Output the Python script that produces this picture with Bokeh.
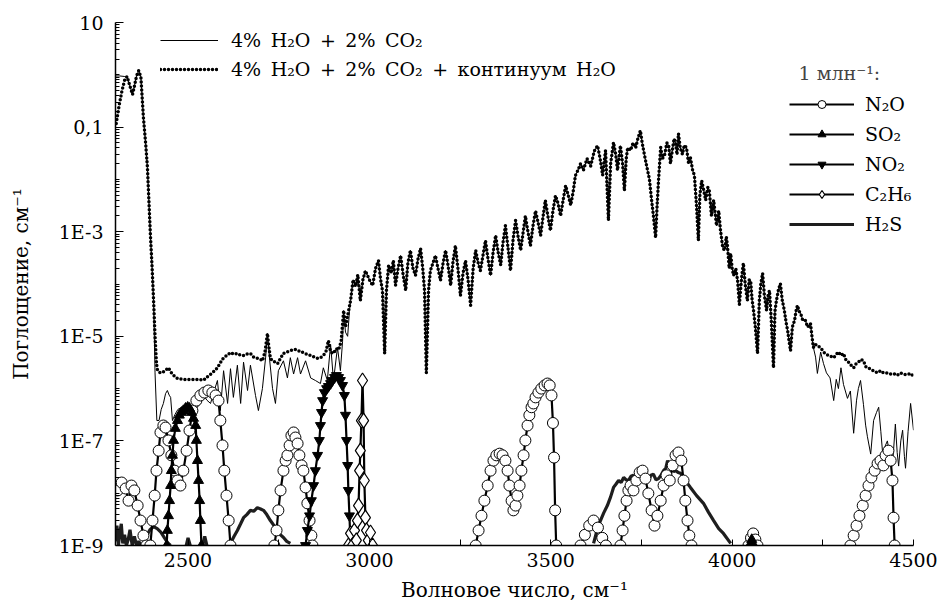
import math
from bokeh.plotting import figure
from bokeh.models import Range1d, FixedTicker, CustomJSTickFormatter, Legend, LegendItem
from bokeh.embed import file_html
from bokeh.resources import INLINE

# ---------------- data (wavenumber, cm-1 ; absorption, cm-1) ----------------
# 4% H2O + 2% CO2 (solid) and + H2O continuum (dotted): common high part
common_wn = [2948, 2955, 2962, 2968, 2975, 2982, 2989, 3000, 3009, 3017,
             3025, 3031, 3036, 3042, 3047, 3053, 3060, 3066, 3072, 3079,
             3086, 3093, 3100, 3106, 3113, 3120, 3127, 3134, 3141, 3147,
             3152, 3157, 3163, 3168, 3175, 3182, 3189, 3196, 3203, 3210,
             3217, 3224, 3230, 3237, 3244, 3251, 3258, 3265, 3272, 3279,
             3286, 3293, 3300, 3306, 3313, 3320, 3327, 3334, 3341, 3348,
             3355, 3362, 3368, 3375, 3382, 3389, 3396, 3403, 3410, 3417,
             3424, 3430, 3437, 3444, 3451, 3458, 3465, 3472, 3479, 3485,
             3492, 3499, 3506, 3513, 3520, 3527, 3534, 3541, 3548, 3555,
             3562, 3568, 3575, 3582, 3590, 3600, 3610, 3620, 3629, 3636,
             3643, 3651, 3659, 3665, 3673, 3679, 3684, 3692, 3698, 3703,
             3708, 3712, 3720, 3727, 3734, 3740, 3747, 3752, 3758, 3763,
             3767, 3772, 3778, 3783, 3789, 3793, 3797, 3803, 3808, 3814,
             3820, 3825, 3830, 3836, 3840, 3844, 3848, 3852, 3857, 3863,
             3868, 3874, 3880, 3885, 3891, 3896, 3902, 3907, 3911, 3916,
             3922, 3927, 3933, 3937, 3943, 3949, 3954, 3957, 3963, 3968,
             3974, 3979, 3984, 3987, 3992, 3996, 4000, 4004, 4010, 4015,
             4020, 4023, 4027, 4031, 4036, 4042, 4047, 4051, 4055, 4059,
             4064, 4070, 4075, 4079, 4084, 4089, 4095, 4099, 4103, 4108,
             4114, 4118, 4122, 4128, 4133, 4138, 4144, 4149, 4153, 4157,
             4161, 4166, 4172, 4176, 4180, 4185, 4189, 4195, 4202, 4208,
             4216, 4220, 4224]
common_abs = [4.8e-5, 1.2e-4, 9.0e-5, 1.5e-4, 4.8e-5, 1.2e-4, 1.8e-4, 1.2e-4, 9.4e-5, 2.0e-4,
              2.8e-4, 1.2e-4, 7.5e-5, 4.7e-6, 7.5e-5, 2.3e-4, 1.6e-4, 2.8e-4, 9.4e-5, 2.0e-4,
              3.5e-4, 1.5e-4, 7.5e-5, 2.5e-4, 4.4e-4, 2.0e-4, 1.46e-4, 3.0e-4, 4.8e-4, 2.0e-4,
              7.5e-5, 2.0e-6, 7.5e-5, 1.8e-4, 2.5e-4, 3.5e-4, 2.0e-4, 1.17e-4, 2.5e-4, 4.4e-4,
              2.2e-4, 9.4e-5, 2.5e-4, 5.4e-4, 2.0e-4, 6.0e-5, 1.6e-4, 2.8e-4, 1.2e-4, 3.9e-5,
              2.0e-4, 4.4e-4, 2.5e-4, 1.8e-4, 3.5e-4, 6.8e-4, 3.0e-4, 1.46e-4, 4.0e-4, 8.5e-4,
              4.0e-4, 2.3e-4, 6.0e-4, 1.31e-3, 5.0e-4, 1.8e-4, 7.0e-4, 1.64e-3, 8.0e-4, 4.4e-4,
              1.0e-3, 2.0e-3, 1.0e-3, 5.4e-4, 1.3e-3, 2.5e-3, 1.5e-3, 8.5e-4, 2.0e-3, 4.0e-3,
              2.0e-3, 1.05e-3, 2.5e-3, 4.9e-3, 3.5e-3, 2.0e-3, 4.0e-3, 7.6e-3, 5.0e-3, 3.2e-3,
              6.0e-3, 1.19e-2, 1.5e-2, 2.0e-2, 1.5e-2, 2.5e-2, 1.8e-2, 3.5e-2, 4.4e-2, 2.5e-2,
              1.2e-2, 3.6e-2, 1.64e-3, 2.0e-2, 5.1e-2, 3.0e-2, 1.5e-2, 4.4e-2, 2.0e-2, 6.1e-3,
              2.5e-2, 4.0e-2, 3.6e-2, 5.0e-2, 4.0e-2, 6.0e-2, 8.6e-2, 5.0e-2, 3.0e-2, 2.0e-2,
              1.48e-2, 1.0e-2, 4.0e-3, 2.0e-3, 7.7e-4, 3.0e-3, 9.5e-3, 4.1e-2, 2.5e-2, 3.0e-2,
              5.0e-2, 4.4e-2, 2.0e-2, 4.0e-2, 6.0e-2, 5.0e-2, 3.0e-2, 7.5e-2, 4.0e-2, 3.0e-2,
              4.5e-2, 4.1e-2, 2.0e-2, 2.6e-2, 1.5e-2, 1.19e-2, 3.0e-3, 6.8e-4, 5.0e-3, 9.5e-3,
              6.0e-3, 4.0e-3, 7.0e-3, 6.1e-3, 2.0e-3, 4.0e-3, 2.0e-3, 1.31e-3, 2.5e-3, 1.05e-3,
              5.0e-4, 4.4e-4, 8.0e-4, 5.4e-4, 2.0e-4, 3.8e-4, 2.0e-4, 1.46e-4, 2.0e-4, 1.17e-4,
              4.0e-5, 7.5e-5, 1.5e-4, 2.5e-4, 1.0e-4, 4.8e-5, 1.2e-4, 1.17e-4, 5.0e-5, 3.1e-5,
              1.5e-5, 4.7e-6, 4.8e-5, 1.0e-4, 1.6e-4, 6.0e-5, 3.1e-5, 6.0e-5, 7.5e-5, 2.0e-5,
              2.5e-6, 3.0e-5, 4.8e-5, 8.0e-5, 1.02e-4, 5.0e-5, 3.1e-5, 1.8e-5, 1.29e-5, 8.0e-6,
              5.3e-6, 1.5e-5, 2.0e-5, 3.0e-5, 3.9e-5, 3.0e-5, 2.7e-5, 2.0e-5, 2.0e-5, 1.5e-5,
              1.76e-5, 1.0e-5, 6.1e-6]

# solid line (4% H2O + 2% CO2), low parts
solid_left_wn = [2300, 2312, 2324, 2332, 2340, 2347, 2352, 2358, 2364, 2370,
                 2377, 2383, 2388, 2392, 2396, 2401, 2405, 2409, 2414, 2420,
                 2426, 2432, 2438, 2443, 2448, 2452, 2457, 2464, 2472, 2482,
                 2496, 2510, 2523, 2534, 2543, 2552, 2562, 2572, 2581, 2589,
                 2598, 2609, 2617, 2625, 2636, 2645, 2653, 2664, 2672, 2686,
                 2694, 2705, 2714, 2719, 2725, 2733, 2741, 2749, 2763, 2774,
                 2782, 2791, 2802, 2810, 2824, 2838, 2851, 2865, 2873, 2884,
                 2893, 2901, 2912, 2920, 2926, 2929, 2934, 2940, 2945]
solid_left_abs = [0.95, 0.95, 0.93, 0.9, 0.6, 0.42, 0.6, 0.95, 1.2, 0.9,
                  0.15, 0.05, 0.017, 0.004, 9.3e-4, 2e-4, 4.8e-5, 2.0e-6, 2.45e-7, 2.45e-7,
                  4.0e-7, 5.2e-7, 8.0e-7, 9.2e-7, 7.5e-7, 6.8e-7, 2.45e-7, 3.2e-7, 4.0e-7, 4.4e-7,
                  4.2e-7, 3.8e-7, 4.2e-7, 5.2e-7, 7.4e-7, 6.0e-7, 5.2e-7, 9.0e-7, 1.43e-6, 3.8e-7,
                  2.2e-6, 5.2e-7, 2.4e-6, 6.8e-7, 2.8e-6, 5.2e-7, 3.2e-6, 9.2e-7, 2.8e-6, 7.4e-7,
                  3.8e-7, 1.0e-6, 4.0e-6, 1.13e-5, 3.5e-6, 1.0e-6, 5.2e-7, 2.2e-6, 3.4e-6, 1.6e-6,
                  3.9e-6, 1.9e-6, 3.9e-6, 1.9e-6, 3.4e-6, 1.6e-6, 1.43e-6, 1.25e-6, 2.5e-6, 1.43e-6,
                  7.0e-6, 1.43e-6, 6.1e-6, 2.2e-6, 8e-6, 3.1e-5, 1.2e-5, 1.0e-5, 3.0e-5]
solid_right_wn = [4230, 4235, 4244, 4252, 4260, 4270, 4280, 4287, 4293, 4300,
                  4307, 4318, 4326, 4335, 4343, 4348, 4354, 4362, 4368, 4373,
                  4382, 4390, 4398, 4404, 4410, 4415, 4422, 4428, 4435, 4442,
                  4450, 4455, 4459, 4465, 4470, 4475, 4478, 4485, 4492, 4500]
solid_right_abs = [4e-6, 1.95e-6, 5.0e-6, 3.0e-6, 2.0e-6, 1.6e-6, 5.9e-7, 1.5e-6, 1.0e-6, 2.5e-6,
                   1.2e-6, 6.5e-7, 9.0e-7, 1.4e-7, 6.0e-7, 1.0e-6, 1.43e-6, 5.0e-7, 2.0e-7, 1.2e-7,
                   5.6e-8, 2.45e-7, 3.5e-7, 4.4e-7, 1.5e-7, 5.7e-8, 8.0e-8, 1.0e-7, 5.0e-8, 3.3e-8,
                   2.1e-7, 6.0e-8, 3.3e-8, 1.0e-7, 1.6e-7, 5.0e-8, 3.0e-8, 1.5e-7, 5.2e-7, 1.6e-7]

# dotted line (with H2O continuum), low parts
cont_left_wn = [2302, 2310, 2318, 2325, 2332, 2340, 2347, 2352, 2358, 2364,
                2370, 2377, 2383, 2388, 2392, 2396, 2401, 2405, 2409, 2413,
                2416, 2424, 2432, 2440, 2446, 2452, 2460, 2471, 2485, 2500,
                2515, 2530, 2543, 2554, 2567, 2581, 2590, 2598, 2607, 2617,
                2627, 2636, 2645, 2653, 2662, 2672, 2681, 2691, 2700, 2705,
                2712, 2716, 2719, 2722, 2727, 2733, 2740, 2747, 2755, 2763,
                2772, 2782, 2792, 2802, 2810, 2818, 2828, 2838, 2848, 2857,
                2865, 2873, 2880, 2887, 2893, 2901, 2908, 2915, 2922, 2929,
                2934, 2940]
cont_left_abs = [0.117, 0.26, 0.5, 0.78, 0.93, 0.6, 0.42, 0.6, 0.95, 1.2,
                 0.9, 0.15, 0.05, 0.017, 0.004, 9.3e-4, 2e-4, 4.8e-5, 1.0e-5, 3.0e-6,
                 2.2e-6, 2.0e-6, 2.1e-6, 2.3e-6, 2.5e-6, 2.1e-6, 1.8e-6, 1.56e-6, 1.5e-6, 1.5e-6,
                 1.5e-6, 1.5e-6, 1.45e-6, 1.7e-6, 2.0e-6, 2.5e-6, 3.2e-6, 3.9e-6, 4.3e-6, 4.9e-6,
                 4.5e-6, 4.7e-6, 4.3e-6, 4.3e-6, 4.6e-6, 4.7e-6, 4.0e-6, 3.8e-6, 3.6e-6, 3.4e-6,
                 5.0e-6, 8.0e-6, 1.13e-5, 7.0e-6, 3.8e-6, 3.4e-6, 3.2e-6, 3.0e-6, 3.8e-6, 4.7e-6,
                 5.0e-6, 5.3e-6, 5.6e-6, 5.5e-6, 5.0e-6, 4.9e-6, 4.5e-6, 4.3e-6, 4.0e-6, 3.8e-6,
                 3.9e-6, 4.3e-6, 5.0e-6, 8.3e-6, 5.0e-6, 4.7e-6, 5.8e-6, 5.5e-6, 8.0e-6, 3.1e-5,
                 1.5e-5, 2.5e-5]
cont_right_wn = [4230, 4235, 4244, 4252, 4260, 4270, 4280, 4287, 4293, 4300,
                 4307, 4314, 4321, 4328, 4335, 4342, 4348, 4355, 4362, 4369,
                 4376, 4383, 4390, 4400, 4410, 4417, 4425, 4435, 4445, 4455,
                 4464, 4472, 4480, 4492, 4500]
cont_right_abs = [7e-6, 6.5e-6, 6.1e-6, 5.0e-6, 4.5e-6, 4.2e-6, 3.9e-6, 4.5e-6, 5.0e-6, 4.3e-6,
                  4.7e-6, 3.5e-6, 3.2e-6, 2.8e-6, 2.5e-6, 3.0e-6, 3.2e-6, 3.6e-6, 3.4e-6, 2.6e-6,
                  2.5e-6, 2.3e-6, 2.2e-6, 2.0e-6, 2.2e-6, 2.0e-6, 2.0e-6, 1.9e-6, 1.95e-6, 1.8e-6,
                  2.0e-6, 1.9e-6, 1.85e-6, 1.95e-6, 1.7e-6]

# 1 ppm gases, one list per band
n2o_bands = [
    ([2306, 2317, 2328, 2336, 2344, 2352, 2361, 2369, 2377, 2385],
     [1.13e-8, 1.6e-8, 1.23e-8, 7.2e-9, 1.4e-8, 1.13e-8, 5.8e-9, 3.0e-9, 1.55e-9, 1e-9]),
    ([2396, 2402, 2408, 2413, 2419, 2424, 2432, 2438, 2446, 2454,
      2463, 2471, 2479, 2487, 2496, 2504, 2512, 2523, 2534, 2545,
      2556, 2567, 2576, 2584, 2589, 2595, 2600, 2606, 2612, 2617],
     [1e-9, 3e-9, 9e-9, 2.7e-8, 6.5e-8, 1.45e-7, 1.97e-7, 1.8e-7, 1.02e-7, 5.3e-8,
      2.7e-8, 1.75e-8, 1.4e-8, 2.7e-8, 6.5e-8, 1.58e-7, 3.8e-7, 5.9e-7, 7.4e-7, 8.4e-7,
      9.2e-7, 8.4e-7, 7.4e-7, 5.9e-7, 2.45e-7, 8.2e-8, 2.7e-8, 9e-9, 3e-9, 1e-9]),
    ([2738, 2744, 2749, 2755, 2763, 2769, 2774, 2780, 2785, 2791,
      2796, 2802, 2807, 2813, 2818, 2824, 2829, 2835, 2840, 2843],
     [1e-9, 1.94e-9, 4.7e-9, 1.13e-8, 2.7e-8, 4.2e-8, 5.3e-8, 8.2e-8, 1.27e-7, 1.45e-7,
      1.16e-7, 8.9e-8, 5.3e-8, 3.4e-8, 2.7e-8, 1.29e-8, 6.4e-9, 3.0e-9, 1.55e-9, 1e-9]),
    ([3293, 3301, 3309, 3317, 3326, 3334, 3342, 3350, 3359, 3367,
      3375, 3381, 3386, 3392, 3397, 3403, 3408, 3414, 3419, 3425,
      3430, 3436, 3441, 3447, 3452, 3458, 3466, 3474, 3483, 3491,
      3497, 3502, 3506, 3509, 3512, 3515],
     [1e-9, 1.94e-9, 3.7e-9, 7.2e-9, 1.4e-8, 2.7e-8, 4.2e-8, 5.3e-8, 5.7e-8, 5.3e-8,
      4.2e-8, 2.7e-8, 1.4e-8, 7.2e-9, 4.7e-9, 5.8e-9, 9e-9, 1.4e-8, 2.7e-8, 5.3e-8,
      1.02e-7, 1.97e-7, 3.1e-7, 4.4e-7, 5.2e-7, 6.8e-7, 8.4e-7, 1e-6, 1.15e-6, 1.25e-6,
      1.15e-6, 7.4e-7, 2.2e-7, 4.8e-8, 4.7e-9, 1e-9]),
    ([3582, 3594, 3606, 3618, 3630, 3642, 3652],
     [1e-9, 1.6e-9, 2.4e-9, 3.0e-9, 2.2e-9, 1.4e-9, 1e-9]),
    ([3692, 3698, 3703, 3709, 3714, 3720, 3728, 3736, 3745, 3753,
      3761, 3769, 3778, 3786, 3794, 3803, 3811, 3819, 3828, 3836,
      3844, 3852, 3860, 3866, 3871, 3877, 3882, 3888],
     [1e-9, 1.94e-9, 3.7e-9, 7.2e-9, 1.13e-8, 1.4e-8, 1.13e-8, 1.75e-8, 2.5e-8, 2.7e-8,
      1.9e-8, 9.9e-9, 4.7e-9, 2.4e-9, 3.7e-9, 7.2e-9, 1.4e-8, 2.2e-8, 1.75e-8, 3.4e-8,
      5.3e-8, 6e-8, 4.2e-8, 1.75e-8, 7.2e-9, 3e-9, 1.55e-9, 1e-9]),
    ([4045, 4052, 4058, 4064, 4070],
     [1e-9, 1.4e-9, 1.7e-9, 1.3e-9, 1e-9]),
    ([4326, 4335, 4343, 4351, 4360, 4368, 4376, 4384, 4393, 4401,
      4409, 4417, 4423, 4431, 4437, 4442, 4445, 4448],
     [1e-9, 1.55e-9, 2.4e-9, 3.7e-9, 5.8e-9, 9e-9, 1.4e-8, 2e-8, 2.7e-8, 3.7e-8,
      4.2e-8, 3.4e-8, 5.3e-8, 6.5e-8, 4.2e-8, 1.75e-8, 3.4e-9, 1e-9]),
]
so2_bands = [
    ([2441, 2443, 2446, 2449, 2452, 2454, 2457, 2460, 2465, 2471,
      2476, 2482, 2487, 2493, 2499, 2504, 2510, 2515, 2521, 2523,
      2526, 2529, 2532, 2534, 2537],
     [1e-9, 1.94e-9, 3.7e-9, 7.2e-9, 1.4e-8, 2.7e-8, 5.3e-8, 1.02e-7, 1.73e-7, 2.45e-7,
      3.1e-7, 3.5e-7, 3.8e-7, 4.2e-7, 4.4e-7, 4.2e-7, 3.5e-7, 2.7e-7, 1.97e-7, 1.02e-7,
      4.2e-8, 1.75e-8, 7.2e-9, 3.0e-9, 1e-9]),
    ([4048, 4054, 4060], [1e-9, 1.3e-9, 1e-9]),
]
no2_bands = [
    ([2824, 2829, 2835, 2840, 2846, 2851, 2857, 2862, 2865, 2868,
      2871, 2876, 2882, 2887, 2893, 2898, 2904, 2909, 2915, 2920,
      2926, 2931, 2934, 2937, 2940, 2942, 2945, 2948],
     [1e-9, 1.94e-9, 3.7e-9, 7.2e-9, 1.4e-8, 2.7e-8, 5.3e-8, 1.02e-7, 1.97e-7, 3.5e-7,
      5.9e-7, 8.4e-7, 1.0e-6, 1.1e-6, 1.25e-6, 1.43e-6, 1.63e-6, 1.78e-6, 1.63e-6, 1.43e-6,
      1.15e-6, 7.4e-7, 3.1e-7, 1.02e-7, 3.4e-8, 1.13e-8, 3.7e-9, 1e-9]),
]
c2h6_bands = [
    ([2942, 2948, 2953, 2959, 2964, 2967, 2970, 2973, 2975, 2978,
      2981, 2984, 2986, 2989, 2992, 2997, 3003, 3009],
     [1e-9, 1.7e-9, 1e-9, 1.94e-9, 1.25e-9, 3.0e-9, 5.8e-9, 2.7e-8, 6.5e-8, 2.45e-7,
      1.43e-6, 2.45e-7, 1.75e-8, 3.4e-9, 1.94e-9, 1.25e-9, 1.77e-9, 1e-9]),
]
h2s_bands = [
    ([2300, 2304, 2308, 2312, 2316, 2320, 2325, 2330, 2335, 2340,
      2346, 2352, 2358, 2364, 2370, 2377, 2385, 2395, 2405, 2415,
      2425, 2435, 2445, 2452],
     [1.2e-9, 2.4e-9, 1.0e-9, 1.8e-9, 2.6e-9, 1.1e-9, 1.6e-9, 1.0e-9, 1.3e-9, 2.0e-9,
      1.0e-9, 1.5e-9, 1.0e-9, 1.2e-9, 1.0e-9, 1.0e-9, 1.5e-9, 2.0e-9, 2.3e-9, 2.1e-9,
      1.8e-9, 1.4e-9, 1.1e-9, 1.0e-9]),
    ([2495, 2500, 2506], [1e-9, 1.4e-9, 1e-9]),
    ([2540, 2546, 2552], [1e-9, 1.5e-9, 1e-9]),
    ([2617, 2627, 2636, 2645, 2653, 2662, 2672, 2681, 2691, 2700,
      2708, 2717, 2727, 2737, 2747, 2755, 2763, 2772, 2782],
     [1.1e-9, 1.5e-9, 1.94e-9, 2.6e-9, 3.4e-9, 3.9e-9, 4.7e-9, 4.5e-9, 5.3e-9, 5.0e-9,
      4.7e-9, 3.9e-9, 3.0e-9, 2.4e-9, 1.94e-9, 1.6e-9, 1.42e-9, 1.2e-9, 1.1e-9]),
    ([3618, 3628, 3637, 3646, 3656, 3665, 3673, 3680, 3687, 3694,
      3701, 3708, 3714, 3721, 3728, 3735, 3742, 3749, 3756, 3762,
      3769, 3776, 3783, 3790, 3797, 3804, 3811, 3817, 3822, 3828,
      3833, 3839, 3844, 3851, 3858, 3865, 3871, 3885, 3902, 3921,
      3935, 3949, 3963, 3976, 3996],
     [1.1e-9, 2e-9, 3e-9, 4.2e-9, 5.8e-9, 8.5e-9, 1.29e-8, 1.5e-8, 1.75e-8, 1.6e-8,
      2e-8, 1.8e-8, 1.75e-8, 2.1e-8, 2.2e-8, 1.7e-8, 1.9e-8, 2.3e-8, 2.5e-8, 2e-8,
      1.75e-8, 2.2e-8, 2.3e-8, 1.8e-8, 1.9e-8, 2.2e-8, 2.7e-8, 3e-8, 4.2e-8, 3.2e-8,
      3e-8, 2.6e-8, 2.7e-8, 2.5e-8, 2.4e-8, 2e-8, 1.75e-8, 1.29e-8, 9e-9, 6.4e-9,
      4.3e-9, 3e-9, 2.1e-9, 1.7e-9, 1.1e-9]),
]

x_ticks = [2500, 3000, 3500, 4000, 4500]
x_minor = [2750, 3250, 3750, 4250]
y_ticks = [1e-9, 1e-7, 1e-5, 1e-3, 1e-1, 10]

legend_main = ["4%\u2002H\u2082O\u2002+\u20022%\u2002CO\u2082",
               "4%\u2002H\u2082O\u2002+\u20022%\u2002CO\u2082\u2002+\u2002континуум\u2002H\u2082O"]
legend_gas = ["N\u2082O", "SO\u2082", "NO\u2082", "C\u2082H\u2086", "H\u2082S"]

# ---------------- build ----------------
NAN = float("nan")


def join(bands):
    xs, ys = [], []
    for i, (bx, by) in enumerate(bands):
        if i:
            xs.append(NAN)
            ys.append(NAN)
        xs += list(bx)
        ys += list(by)
    return xs, ys


solid_x = solid_left_wn + common_wn + solid_right_wn
solid_y = solid_left_abs + common_abs + solid_right_abs
cont_x = cont_left_wn + common_wn + cont_right_wn
cont_y = cont_left_abs + common_abs + cont_right_abs

FONT = "DejaVu Serif"

p = figure(frame_width=798, frame_height=523, y_axis_type="log",
           x_range=Range1d(2300, 4500), y_range=Range1d(1e-9, 10),
           output_backend="svg", toolbar_location=None,
           min_border_left=115, min_border_right=26, min_border_top=22,
           min_border_bottom=60, background_fill_color="white",
           border_fill_color="white")
p.outline_line_color = None
p.xgrid.visible = False
p.ygrid.visible = False

r_solid = p.line(solid_x, solid_y, line_color="black", line_width=1)
r_cont = p.line(cont_x, cont_y, line_color="black", line_width=3.5,
                line_dash="0 4", line_cap="round")

hx, hy = join(h2s_bands)
r_h2s = p.line(hx, hy, line_color="#1e1e1e", line_width=3.2)

nx, ny = join(n2o_bands)
r_n2o_l = p.line(nx, ny, line_color="black", line_width=2.2)
r_n2o_m = p.scatter(nx, ny, marker="circle", size=11, fill_color="white",
                    line_color="black", line_width=1)

sx, sy = join(so2_bands)
r_so2_l = p.line(sx, sy, line_color="black", line_width=2.2)
r_so2_m = p.scatter(sx, sy, marker="triangle", size=10, fill_color="black",
                    line_color="black")

ox, oy = join(no2_bands)
r_no2_l = p.line(ox, oy, line_color="black", line_width=2.2)
r_no2_m = p.scatter(ox, oy, marker="inverted_triangle", size=10,
                    fill_color="black", line_color="black")

cx, cy = join(c2h6_bands)
r_c2_l = p.line(cx, cy, line_color="black", line_width=2.2)
r_c2_m = p.scatter(cx, cy, marker="diamond", size=15, fill_color="white",
                   line_color="black", line_width=1.2)

# axes
for ax in (p.xaxis[0], p.yaxis[0]):
    ax.axis_line_width = 1.5
    ax.axis_line_color = "black"
    ax.major_tick_line_color = "black"
    ax.minor_tick_line_color = "black"
    ax.major_tick_out = 0
    ax.minor_tick_out = 0
    ax.major_label_text_font = FONT
    ax.major_label_text_font_size = "19px"
    ax.major_label_text_color = "black"
    ax.axis_label_text_font = FONT
    ax.axis_label_text_font_size = "20px"
    ax.axis_label_text_font_style = "normal"
    ax.axis_label_text_color = "black"

p.xaxis.ticker = FixedTicker(ticks=x_ticks, minor_ticks=x_minor)
p.xaxis.major_tick_in = 6
p.xaxis.minor_tick_in = 6
p.xaxis.major_label_standoff = 7
p.xaxis.axis_label = "Волновое число, см\u207b\u00b9"
p.xaxis.axis_label_standoff = 8

y_minor = [m * 10.0 ** k for k in range(-9, 1) for m in range(1, 10)
           if not any(abs(m * 10.0 ** k - t) / t < 1e-9 for t in y_ticks)]
p.yaxis.ticker = FixedTicker(ticks=y_ticks, minor_ticks=y_minor)
p.yaxis.formatter = CustomJSTickFormatter(code="""
const e = Math.round(Math.log10(tick));
if (e === 1) return '10';
if (e === -1) return '0,1';
return '1E' + e;
""")
p.yaxis.major_tick_in = 8
p.yaxis.minor_tick_in = 4
p.yaxis.major_label_standoff = 12
p.yaxis.axis_label = "Поглощение, см\u207b\u00b9"
p.yaxis.axis_label_standoff = 23

# legends
leg1 = Legend(items=[LegendItem(label=legend_main[0], renderers=[r_solid]),
                     LegendItem(label=legend_main[1], renderers=[r_cont])],
              location=(45, 465))
leg2 = Legend(items=[LegendItem(label=legend_gas[0], renderers=[r_n2o_l, r_n2o_m]),
                     LegendItem(label=legend_gas[1], renderers=[r_so2_l, r_so2_m]),
                     LegendItem(label=legend_gas[2], renderers=[r_no2_l, r_no2_m]),
                     LegendItem(label=legend_gas[3], renderers=[r_c2_l, r_c2_m]),
                     LegendItem(label=legend_gas[4], renderers=[r_h2s])],
              location=(674, 310), title="\u20021 млн\u207b\u00b9:")
for lg, gw, sp, st in ((leg1, 58, 7, 13), (leg2, 65, 8, 11)):
    lg.glyph_width = gw
    lg.glyph_height = 20
    lg.label_height = 20
    lg.label_standoff = st
    lg.spacing = sp
    lg.padding = 0
    lg.margin = 0
    lg.border_line_color = None
    lg.background_fill_alpha = 0
    lg.label_text_font = FONT
    lg.label_text_font_size = "19px"
    lg.label_text_color = "black"
    lg.title_text_font = FONT
    lg.title_text_font_size = "19px"
    lg.title_text_font_style = "normal"
    lg.title_standoff = 9
p.add_layout(leg1)
p.add_layout(leg2)

with open("out.html", "w", encoding="utf-8") as f:
    f.write(file_html(p, INLINE))
